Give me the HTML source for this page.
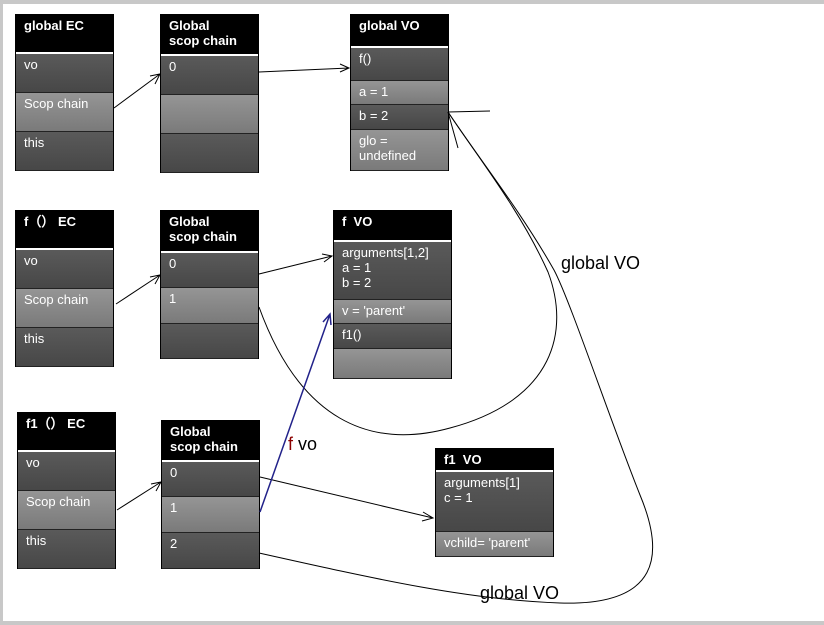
<!DOCTYPE html>
<html><head><meta charset="utf-8"><style>
body{margin:0;width:824px;height:625px;position:relative;background:#fff;font-family:"Liberation Sans",Arial,sans-serif;overflow:hidden}
.frame{position:absolute;left:0;top:0;width:824px;height:625px;box-sizing:border-box;border-top:4px solid #c8c8c8;border-left:3px solid #c8c8c8;border-bottom:4px solid #c8c8c8}
.box{position:absolute;border:1px solid #000;box-sizing:border-box;background:#000}
.box div{position:absolute;left:0;right:0;color:#fff;font-size:13px;padding:3px 8px;box-sizing:border-box;line-height:15px}
.h{background:#000;font-weight:bold;border-bottom:2px solid #fff}
.d{background:linear-gradient(#5a5a5a,#474747);border-bottom:1px solid #222}
.l{background:linear-gradient(#959595,#7a7a7a);border-bottom:1px solid #222}
.lbl{position:absolute;font-size:18px;color:#000}
</style></head><body>
<div class="frame"></div>

<div class="box" style="left:15px;top:14px;width:99px;height:157px">
<div class="h" style="top:0;height:39px">global EC</div>
<div class="d" style="top:39px;height:39px">vo</div>
<div class="l" style="top:78px;height:39px">Scop chain</div>
<div class="d" style="top:117px;height:39px">this</div></div>

<div class="box" style="left:160px;top:14px;width:99px;height:159px">
<div class="h" style="top:0;height:41px">Global<br>scop chain</div>
<div class="d" style="top:41px;height:39px">0</div>
<div class="l" style="top:80px;height:39px"></div>
<div class="d" style="top:119px;height:39px"></div></div>

<div class="box" style="left:350px;top:14px;width:99px;height:157px">
<div class="h" style="top:0;height:33px">global VO</div>
<div class="d" style="top:33px;height:33px">f()</div>
<div class="l" style="top:66px;height:24px">a = 1</div>
<div class="d" style="top:90px;height:25px">b = 2</div>
<div class="l" style="top:115px;height:41px">glo =<br>undefined</div></div>

<div class="box" style="left:15px;top:210px;width:99px;height:157px">
<div class="h" style="top:0;height:39px">f（） EC</div>
<div class="d" style="top:39px;height:39px">vo</div>
<div class="l" style="top:78px;height:39px">Scop chain</div>
<div class="d" style="top:117px;height:39px">this</div></div>

<div class="box" style="left:160px;top:210px;width:99px;height:149px">
<div class="h" style="top:0;height:42px">Global<br>scop chain</div>
<div class="d" style="top:42px;height:35px">0</div>
<div class="l" style="top:77px;height:36px">1</div>
<div class="d" style="top:113px;height:35px"></div></div>

<div class="box" style="left:333px;top:210px;width:119px;height:169px">
<div class="h" style="top:0;height:31px">f &nbsp;VO</div>
<div class="d" style="top:31px;height:58px">arguments[1,2]<br>a = 1<br>b = 2</div>
<div class="l" style="top:89px;height:24px">v = 'parent'</div>
<div class="d" style="top:113px;height:25px">f1()</div>
<div class="l" style="top:138px;height:30px"></div></div>

<div class="box" style="left:17px;top:412px;width:99px;height:157px">
<div class="h" style="top:0;height:39px">f1（） EC</div>
<div class="d" style="top:39px;height:39px">vo</div>
<div class="l" style="top:78px;height:39px">Scop chain</div>
<div class="d" style="top:117px;height:39px">this</div></div>

<div class="box" style="left:161px;top:420px;width:99px;height:149px">
<div class="h" style="top:0;height:41px">Global<br>scop chain</div>
<div class="d" style="top:41px;height:35px">0</div>
<div class="l" style="top:76px;height:36px">1</div>
<div class="d" style="top:112px;height:36px">2</div></div>

<div class="box" style="left:435px;top:448px;width:119px;height:109px">
<div class="h" style="top:0;height:23px">f1 &nbsp;VO</div>
<div class="d" style="top:23px;height:60px">arguments[1]<br>c = 1</div>
<div class="l" style="top:83px;height:25px">vchild= 'parent'</div></div>

<svg width="824" height="625" style="position:absolute;left:0;top:0" fill="none" stroke="#000" stroke-width="1">
<path d="M114,108 L160,74 M150,76 L160,74 L155,84"/>
<path d="M259,72 L349,68 M340,64 L349,68 L340,72"/>
<path d="M116,304 L160,275 M150,277 L160,275 L155,284"/>
<path d="M259,274 L332,256 M322,254 L332,256 L324,262"/>
<path d="M117,510 L161,482 M151,484 L161,482 L156,491"/>
<path d="M260,477 L433,518 M423,512 L433,518 L422,521"/>
<path d="M259,307 C300,420 370,450 450,428 C555,400 570,330 548,272 C520,210 480,160 448,112"/>
<path d="M259,553 C380,580 470,600 560,603 C660,606 665,555 640,495 C610,420 570,300 554,270 C520,210 480,160 448,112"/>
<path d="M448,112 L490,111 M448,112 L458,148"/>
<path d="M260,512 L330,314 M323,322 L330,314 L331,325" stroke="#22228a" stroke-width="1.5"/>
</svg>
<div class="lbl" style="left:288px;top:434px"><span style="color:#8b0000">f</span> vo</div>
<div class="lbl" style="left:561px;top:253px">global VO</div>
<div class="lbl" style="left:480px;top:583px">global VO</div>
</body></html>
